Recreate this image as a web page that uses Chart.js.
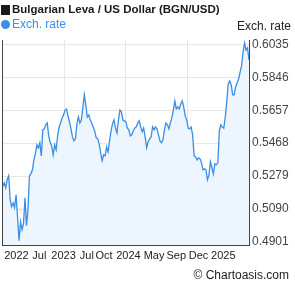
<!DOCTYPE html>
<html>
<head>
<meta charset="utf-8">
<script src="https://cdn.jsdelivr.net/npm/chart.js@4.4.1/dist/chart.umd.min.js"></script>
<style>
  html, body { margin: 0; padding: 0; background: #fff; }
  #wrap { width: 295px; height: 288px; }
</style>
</head>
<body>
<div id="wrap"><canvas id="rateChart" width="295" height="288"></canvas></div>
<script>
// BGN/USD exchange rate (oldest first)
const rates = [
  0.5220, 0.5241, 0.5212, 0.5258, 0.5281, 0.5143, 0.5103, 0.5126, 0.5097, 0.5172,
  0.5040, 0.4909, 0.5017, 0.4972, 0.5006, 0.5155, 0.4995, 0.5086, 0.5281, 0.5292,
  0.5315, 0.5372, 0.5407, 0.5458, 0.5441, 0.5470, 0.5395, 0.5544, 0.5550, 0.5573,
  0.5584, 0.5510, 0.5470, 0.5452, 0.5401, 0.5458, 0.5430, 0.5510, 0.5561, 0.5584,
  0.5613, 0.5630, 0.5658, 0.5664, 0.5624, 0.5590, 0.5550, 0.5504, 0.5481, 0.5493,
  0.5578, 0.5618, 0.5584, 0.5601, 0.5670, 0.5745, 0.5687, 0.5618, 0.5630, 0.5601,
  0.5584, 0.5561, 0.5538, 0.5498, 0.5493, 0.5464, 0.5412, 0.5367, 0.5401, 0.5395,
  0.5447, 0.5418, 0.5481, 0.5538, 0.5578, 0.5601, 0.5555, 0.5527, 0.5601, 0.5658,
  0.5647, 0.5601, 0.5596, 0.5590, 0.5555, 0.5544, 0.5510, 0.5516, 0.5538, 0.5555,
  0.5561, 0.5584, 0.5596, 0.5561, 0.5533, 0.5555, 0.5504, 0.5441, 0.5476, 0.5493,
  0.5504, 0.5561, 0.5544, 0.5561, 0.5550, 0.5516, 0.5481, 0.5470, 0.5487, 0.5544,
  0.5584, 0.5573, 0.5550, 0.5584, 0.5613, 0.5658, 0.5710, 0.5664, 0.5676, 0.5664,
  0.5693, 0.5710, 0.5676, 0.5624, 0.5601, 0.5555, 0.5550, 0.5561, 0.5516, 0.5395,
  0.5389, 0.5372, 0.5384, 0.5378, 0.5355, 0.5315, 0.5321, 0.5315, 0.5258, 0.5286,
  0.5361, 0.5327, 0.5292, 0.5349, 0.5344, 0.5355, 0.5538, 0.5573, 0.5561, 0.5555,
  0.5618, 0.5704, 0.5808, 0.5825, 0.5802, 0.5745, 0.5745, 0.5791, 0.5814, 0.5836,
  0.5876, 0.5911, 0.5991, 0.6042, 0.6002, 0.6014, 0.5945
];

// y axis tick values
const yTicks = [0.4901, 0.5090, 0.5279, 0.5468, 0.5657, 0.5846, 0.6035];

// x axis labels and the point index each one sits at
const xTickLabels = ["2022", "Jul", "2023", "Jul", "Oct", "2024", "May", "Sep", "Dec", "2025"];
const xTickIdx = [9.2, 24.7, 41.0, 56.7, 68.3, 84.7, 102.0, 117.0, 132.0, 148.7];

const FONT = "'Liberation Sans', Arial, sans-serif";
const BLUE = "#3a8ee6";

// title, legend entry, axis caption and credit
const header = {
  id: "header",
  afterDraw(chart) {
    const ctx = chart.ctx;
    ctx.save();
    ctx.textBaseline = "middle";
    ctx.fillStyle = "#1a1a1a";
    ctx.fillRect(1, 5, 9, 10);
    ctx.font = "bold 11.5px " + FONT;
    ctx.fillText("Bulgarian Leva / US Dollar (BGN/USD)", 12, 10);

    ctx.fillStyle = BLUE;
    ctx.beginPath();
    ctx.arc(5.5, 24.5, 4.5, 0, Math.PI * 2);
    ctx.fill();
    ctx.font = "12px " + FONT;
    ctx.fillText("Exch. rate", 12, 25);

    ctx.fillStyle = "#222";
    ctx.textAlign = "right";
    ctx.fillText("Exch. rate", 291, 27);
    ctx.fillText("\u00a9 Chartoasis.com", 289, 276);
    ctx.restore();
  }
};

new Chart(document.getElementById("rateChart"), {
  type: "line",
  data: {
    datasets: [
      {
        label: "Exch. rate",
        data: rates.map((v, i) => ({ x: i, y: v })),
        borderColor: BLUE,
        borderWidth: 1.3,
        backgroundColor: "#edf5fe",
        fill: "start",
        pointRadius: 0,
        tension: 0,
      },
    ],
  },
  options: {
    responsive: false,
    animation: false,
    layout: { padding: { top: 40, right: 0, bottom: 23, left: 0 } },
    plugins: {
      legend: { display: false },
      tooltip: { enabled: false },
    },
    scales: {
      x: {
        type: "linear",
        position: "bottom",
        min: 0,
        max: rates.length - 1,
        // four equal grid bands
        afterBuildTicks: (axis) => {
          axis.ticks = [0, 1, 2, 3, 4].map((k) => ({ value: axis.min + (k * (axis.max - axis.min)) / 4 }));
        },
        ticks: { display: false },
        grid: { color: "#e6e6e6", drawTicks: false },
        border: { color: "#444", z: 1 },
      },
      xl: {
        type: "linear",
        position: "bottom",
        min: 0,
        max: rates.length - 1,
        afterBuildTicks: (axis) => {
          axis.ticks = xTickIdx.map((v) => ({ value: v }));
        },
        afterFit: (axis) => {
          axis.height = 20;
        },
        ticks: {
          autoSkip: false,
          maxRotation: 0,
          padding: 4,
          color: "#222",
          font: { family: FONT, size: 11 },
          callback: (v, i) => xTickLabels[i],
        },
        grid: { display: false, drawTicks: false },
        border: { display: false },
      },
      y: {
        position: "right",
        min: 0.48838,
        max: 0.60597,
        afterBuildTicks: (axis) => {
          axis.ticks = yTicks.map((v) => ({ value: v }));
        },
        afterFit: (axis) => {
          axis.width = 46;
        },
        ticks: {
          padding: 3,
          color: "#444",
          font: { family: FONT, size: 12 },
          callback: (v) => v.toFixed(4),
        },
        grid: { color: "#e6e6e6", drawTicks: false },
        border: { color: "#444", z: 1 },
      },
      yl: {
        position: "left",
        min: 0.48838,
        max: 0.60597,
        ticks: { display: false },
        grid: { display: false, drawTicks: false },
        border: { color: "#444", z: 1 },
      },
    },
  },
  plugins: [header],
});
</script>
</body>
</html>
